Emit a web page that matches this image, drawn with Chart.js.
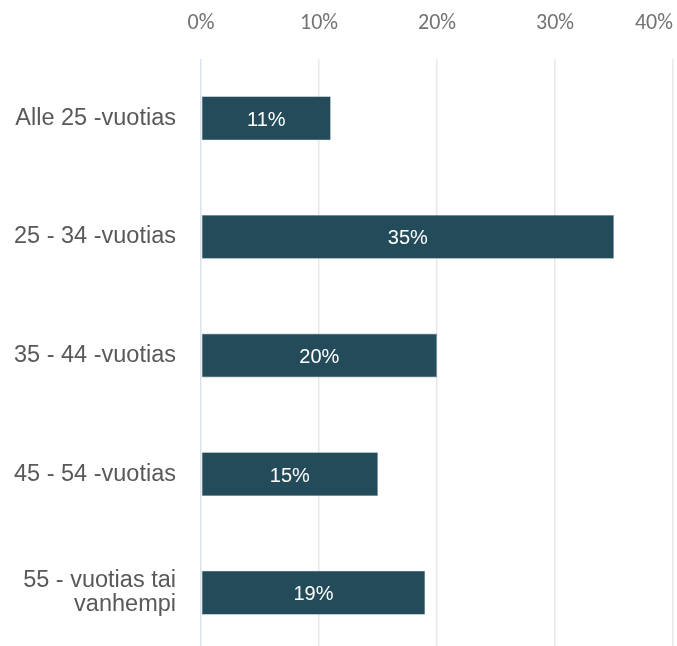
<!DOCTYPE html>
<html>
<head>
<meta charset="utf-8">
<script src="https://cdn.jsdelivr.net/npm/chart.js@4.4.1/dist/chart.umd.min.js"></script>
<style>
    html, body { margin: 0; padding: 0; background: #fff; overflow: hidden; }
    canvas { display: block; }
</style>
</head>
<body>
<canvas id="ageChart" width="677" height="652"></canvas>
<script>
// age groups and their share of respondents (%)
const ageGroups = [
    'Alle 25 -vuotias',
    '25 - 34 -vuotias',
    '35 - 44 -vuotias',
    '45 - 54 -vuotias',
    ['55 - vuotias tai', 'vanhempi']
];
const shares = [11, 35, 20, 15, 19];

const axisMax = 40;
const axisStep = 10;

const FONT = "'Liberation Sans', Arial, sans-serif";
const TICK_FONT = "Carlito, Calibri, 'Liberation Sans', sans-serif";

// x tick labels drawn above the plot, last one kept inside the canvas
const topTicks = {
    id: 'topTicks',
    afterDraw(chart) {
        const { ctx, chartArea } = chart;
        const xScale = chart.scales.x;
        ctx.save();
        ctx.font = '22px ' + TICK_FONT;
        ctx.fillStyle = '#737373';
        ctx.textBaseline = 'middle';
        ctx.textAlign = 'left';
        xScale.ticks.forEach(t => {
            const text = t.value + '%';
            const w = ctx.measureText(text).width;
            let x = xScale.getPixelForValue(t.value) - w / 2;
            x = Math.min(x, chartArea.right - w);
            ctx.fillText(text, x, 23);
        });
        ctx.restore();
    }
};

// value labels in the middle of each bar
const barLabels = {
    id: 'barLabels',
    afterDatasetsDraw(chart) {
        const { ctx } = chart;
        const meta = chart.getDatasetMeta(0);
        ctx.save();
        ctx.font = '20px ' + FONT;
        ctx.fillStyle = '#ffffff';
        ctx.textAlign = 'center';
        ctx.textBaseline = 'middle';
        meta.data.forEach((bar, i) => {
            const p = bar.getProps(['x', 'y', 'base'], true);
            ctx.fillText(shares[i] + '%', (p.x + p.base) / 2, p.y + 2);
        });
        ctx.restore();
    }
};

new Chart(document.getElementById('ageChart'), {
    type: 'bar',
    data: {
        labels: ageGroups,
        datasets: [{
            data: shares,
            backgroundColor: '#234b5a',
            borderColor: '#8ea4ad',
            borderWidth: 0.6,
            borderSkipped: false,
            categoryPercentage: 1,
            barPercentage: 0.37
        }]
    },
    options: {
        indexAxis: 'y',
        responsive: false,
        animation: false,
        layout: { padding: { top: 59, right: 4, bottom: 0, left: 0 } },
        plugins: {
            legend: { display: false },
            tooltip: { enabled: false }
        },
        scales: {
            x: {
                position: 'top',
                min: 0,
                max: axisMax,
                ticks: { display: false, stepSize: axisStep },
                border: { display: false },
                grid: {
                    drawTicks: false,
                    lineWidth: 1.5,
                    color: ctx => ctx.tick && ctx.tick.value === 0 ? '#d9e2ef' : '#e8e8e8'
                }
            },
            y: {
                grid: { display: false },
                border: { display: false },
                ticks: {
                    padding: 17,
                    color: '#595959',
                    font: { family: FONT, size: 23.5, lineHeight: 1.02 }
                },
                afterFit(scale) {
                    scale.width = 201;
                    // labels sit inside their bands, no extra room needed above/below
                    scale.paddingTop = 0;
                    scale.paddingBottom = 0;
                }
            }
        }
    },
    plugins: [topTicks, barLabels]
});
</script>
</body>
</html>
